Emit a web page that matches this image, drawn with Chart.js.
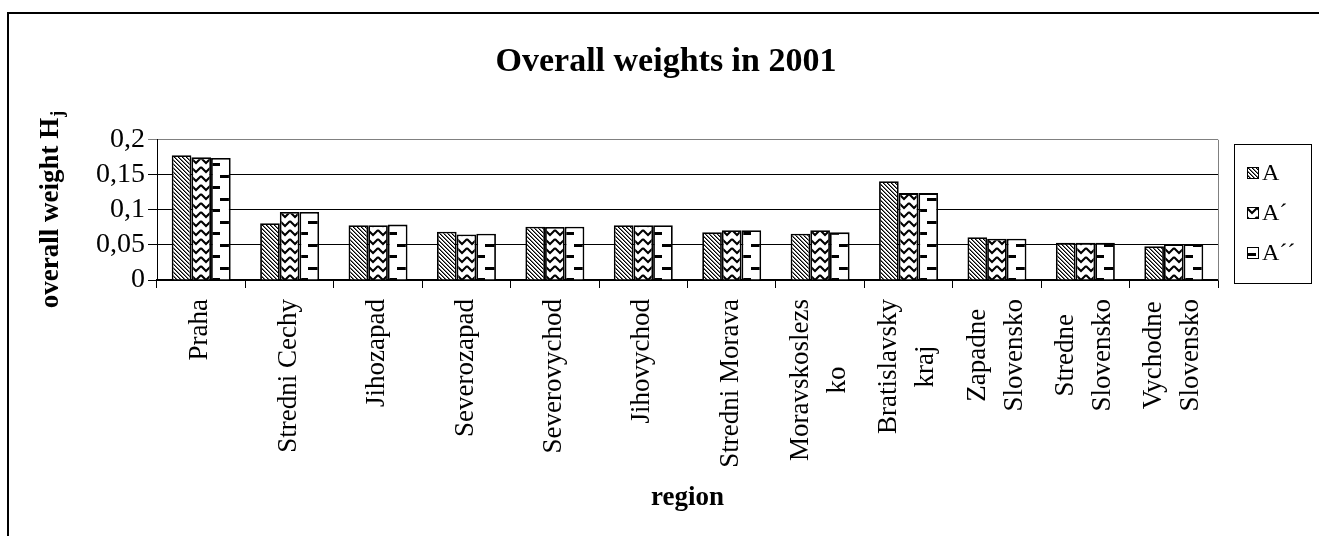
<!DOCTYPE html>
<html>
<head>
<meta charset="utf-8">
<script src="https://cdn.jsdelivr.net/npm/chart.js@4.4.1/dist/chart.umd.min.js"></script>
<style>
  html, body { margin: 0; padding: 0; background: #fff; }
  canvas { display: block; }
</style>
</head>
<body>
<canvas id="weights" width="1319" height="536"></canvas>
<script>
const regions = [
    'Praha', 'Stredni Cechy', 'Jihozapad', 'Severozapad', 'Severovychod', 'Jihovychod',
    'Stredni Morava', ['Moravskoslezs', 'ko'], ['Bratislavsky', 'kraj'],
    ['Zapadne', 'Slovensko'], ['Stredne', 'Slovensko'], ['Vychodne', 'Slovensko']
];
const seriesNames = ['A', 'A´', 'A´´'];
const weightsA   = [0.178, 0.081, 0.078, 0.069, 0.076, 0.078, 0.068, 0.066, 0.141, 0.061, 0.053, 0.048];
const weightsA1  = [0.175, 0.097, 0.078, 0.065, 0.0755, 0.078, 0.071, 0.071, 0.124, 0.059, 0.053, 0.051];
const weightsA2  = [0.174, 0.097, 0.079, 0.066, 0.076, 0.078, 0.071, 0.068, 0.124, 0.059, 0.053, 0.051];
const yTickLabels = ['0', '0,05', '0,1', '0,15', '0,2'];

const serif = "'Liberation Serif', 'Times New Roman', serif";

// small bitmaps for the black & white fill patterns
function makeTile(w, h, paint) {
    const c = document.createElement('canvas');
    c.width = w;
    c.height = h;
    const g = c.getContext('2d');
    g.fillStyle = '#fff';
    g.fillRect(0, 0, w, h);
    g.fillStyle = '#000';
    g.strokeStyle = '#000';
    paint(g);
    return c;
}
const tileDiag = makeTile(4, 4, g => {
    for (let i = 0; i < 4; i++) {
        g.fillStyle = '#000';
        g.fillRect(i, i, 1, 1);
        g.fillStyle = '#777';
        g.fillRect((i + 1) % 4, i, 1, 1);
    }
});
const tileZig = makeTile(10, 9, g => {
    g.lineWidth = 2;
    g.beginPath();
    g.moveTo(0, 1);
    g.lineTo(5, 6);
    g.lineTo(10, 1);
    g.stroke();
});
const tileDash = makeTile(20, 23, g => {
    g.fillRect(9, 0, 11, 3);
    g.fillRect(0, 11, 9, 3);
});
const tiles = [tileDiag, tileZig, tileDash];

const catPct = 0.667;

// pattern anchored on the left edge of each bar
function barFill(ds) {
    return function (c) {
        const p = c.chart.ctx.createPattern(tiles[ds], 'repeat');
        const xs = c.chart.scales.x;
        if (c.type !== 'data' || !xs) return p;
        const group = xs.width / regions.length * catPct;
        const left = xs.getPixelForValue(c.dataIndex) - group / 2 + ds * group / 3;
        p.setTransform(new DOMMatrix([1, 0, 0, 1, Math.round(left), 175]));
        return p;
    };
}

const frame = {
    id: 'frame',
    beforeDraw(chart) {
        const g = chart.ctx;
        g.save();
        g.fillStyle = '#fff';
        g.fillRect(0, 0, chart.width, chart.height);
        g.fillStyle = '#000';
        g.fillRect(7, 12, 2, chart.height);
        g.fillRect(7, 12, chart.width, 2);
        g.restore();
    }
};

const plotEdge = {
    id: 'plotEdge',
    beforeDatasetsDraw(chart) {
        const g = chart.ctx, a = chart.chartArea;
        g.save();
        g.strokeStyle = '#808080';
        g.lineWidth = 1;
        g.beginPath();
        g.moveTo(Math.round(a.right) + 0.5, a.top);
        g.lineTo(Math.round(a.right) + 0.5, a.bottom);
        g.stroke();
        g.restore();
    }
};

// rotated category labels, lines centred on each other
const regionLabels = {
    id: 'regionLabels',
    afterDraw(chart) {
        const xs = chart.scales.x, g = chart.ctx;
        g.save();
        g.font = '27px ' + serif;
        g.fillStyle = '#000';
        g.textAlign = 'center';
        g.textBaseline = 'middle';
        regions.forEach((lab, i) => {
            const lines = [].concat(lab);
            const len = Math.max(...lines.map(l => g.measureText(l).width));
            const cx = xs.getPixelForValue(i);
            lines.forEach((l, j) => {
                g.save();
                g.translate(cx + (j - (lines.length - 1) / 2) * 37 - 1, xs.top + 19 + len / 2);
                g.rotate(-Math.PI / 2);
                g.fillText(l, 0, 0);
                g.restore();
            });
        });
        g.restore();
    }
};

// y title with subscript j
const yTitle = {
    id: 'yTitle',
    afterDraw(chart) {
        const g = chart.ctx, a = chart.chartArea;
        const main = 'overall weight H', sub = 'j';
        g.save();
        g.fillStyle = '#000';
        g.font = 'bold 27px ' + serif;
        const w1 = g.measureText(main).width;
        g.font = 'bold 18px ' + serif;
        const w2 = g.measureText(sub).width;
        g.translate(51, (a.top + a.bottom) / 2);
        g.rotate(-Math.PI / 2);
        g.textBaseline = 'middle';
        g.textAlign = 'left';
        const x0 = -(w1 + w2) / 2;
        g.font = 'bold 27px ' + serif;
        g.fillText(main, x0, 0);
        g.font = 'bold 18px ' + serif;
        g.fillText(sub, x0 + w1 + 1, 7);
        g.restore();
    }
};

const boxLegend = {
    id: 'boxLegend',
    afterDraw(chart) {
        const g = chart.ctx, a = chart.chartArea;
        const left = Math.round(a.right) + 16, top = 144, w = 77, h = 139;
        g.save();
        g.strokeStyle = '#000';
        g.lineWidth = 1;
        g.strokeRect(left + 0.5, top + 0.5, w, h);
        g.font = '24px ' + serif;
        g.textBaseline = 'middle';
        seriesNames.forEach((name, i) => {
            const cy = top + 29 + i * 40;
            const sx = left + 13, sy = Math.round(cy - 6);
            const p = g.createPattern(tiles[i], 'repeat');
            p.setTransform(new DOMMatrix([1, 0, 0, 1, sx, i === 2 ? sy - 5 : sy]));
            g.fillStyle = p;
            g.fillRect(sx, sy, 12, 12);
            g.strokeRect(sx + 0.5, sy + 0.5, 11, 11);
            g.fillStyle = '#000';
            g.fillText(name, sx + 15, cy + 1);
        });
        g.restore();
    }
};

new Chart(document.getElementById('weights'), {
    type: 'bar',
    data: {
        labels: regions,
        datasets: [weightsA, weightsA1, weightsA2].map((d, i) => ({
            label: seriesNames[i],
            data: d,
            backgroundColor: barFill(i),
            borderColor: '#000',
            borderWidth: 1.8,
            categoryPercentage: catPct,
            barPercentage: 1
        }))
    },
    options: {
        responsive: false,
        animation: false,
        layout: { padding: { left: 13, right: 0, top: 0, bottom: 0 } },
        plugins: {
            legend: { display: false },
            tooltip: { enabled: false },
            title: {
                display: true,
                text: 'Overall weights in 2001',
                color: '#000',
                font: { family: serif, size: 34, weight: 'bold', lineHeight: 1.2 },
                padding: { top: 42, bottom: 57 }
            }
        },
        scales: {
            x: {
                offset: true,
                grid: { display: true, offset: true, drawOnChartArea: false, drawTicks: true, tickLength: 8, color: '#000', lineWidth: 1 },
                border: { display: true, color: '#000', width: 1.5 },
                ticks: { display: false },
                title: {
                    display: true,
                    text: 'region',
                    color: '#000',
                    font: { family: serif, size: 27, weight: 'bold', lineHeight: 1.2 },
                    padding: { top: 0, bottom: 22 }
                },
                afterFit(s) { s.height = 256; }
            },
            y: {
                min: 0,
                max: 0.2,
                ticks: {
                    stepSize: 0.05,
                    autoSkip: false,
                    color: '#000',
                    font: { family: serif, size: 28, lineHeight: 1 },
                    padding: 3,
                    callback: (v, i) => yTickLabels[i]
                },
                grid: {
                    color: c => c.index === yTickLabels.length - 1 ? '#808080' : '#000',
                    lineWidth: 1,
                    tickLength: 9
                },
                border: { color: '#000', width: 1 },
                afterFit(s) { s.width = 144; }
            },
            side: {
                type: 'linear',
                position: 'right',
                display: true,
                grid: { display: false },
                ticks: { display: false },
                border: { display: false },
                afterFit(s) { s.width = 101; }
            }
        }
    },
    plugins: [frame, plotEdge, regionLabels, yTitle, boxLegend]
});
</script>
</body>
</html>
